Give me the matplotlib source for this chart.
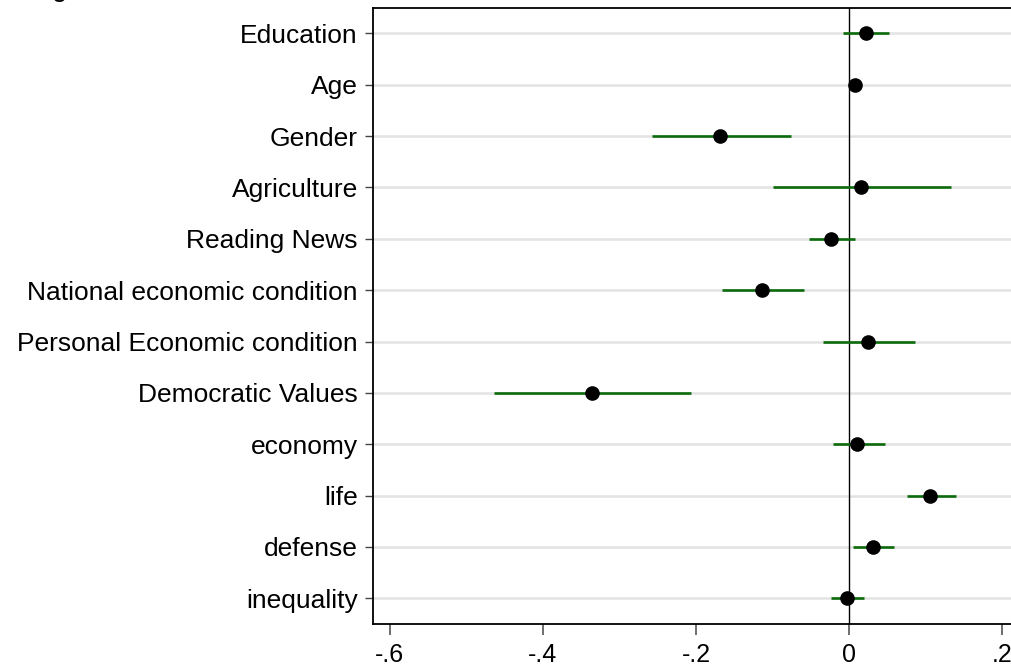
import matplotlib
matplotlib.use("Agg")
import matplotlib.pyplot as plt
import numpy as np

plt.rcParams["font.family"] = ["Liberation Sans", "DejaVu Sans"]

# ── Data (coefficients with confidence intervals) ──
labels = [
    "Education",
    "Age",
    "Gender",
    "Agriculture",
    "Reading News",
    "National economic condition",
    "Personal Economic condition",
    "Democratic Values",
    "economy",
    "life",
    "defense",
    "inequality",
]
coef = [0.022, 0.007, -0.169, 0.016, -0.024, -0.114, 0.025, -0.336, 0.010, 0.106, 0.031, -0.003]
ci_low = [-0.008, 0.003, -0.258, -0.099, -0.052, -0.166, -0.034, -0.464, -0.021, 0.075, 0.005, -0.024]
ci_high = [0.052, 0.011, -0.076, 0.133, 0.008, -0.059, 0.086, -0.207, 0.047, 0.139, 0.059, 0.020]
xticks = [-0.6, -0.4, -0.2, 0.0, 0.2]
xticklabels = ["-.6", "-.4", "-.2", "0", ".2"]

C_CI = "#0b6b0b"
C_GRID = "#e3e3e3"

fig = plt.figure(figsize=(10.11, 6.67), dpi=100)
fig.patch.set_facecolor("white")

# axes runs past the right edge, as in the cropped original
ax = fig.add_axes([0.369, 0.0645, 0.639, 0.924])

n = len(labels)
ypos = np.arange(n, 0, -1)

# ── Horizontal row guides ──
for y in ypos:
    ax.axhline(y, color=C_GRID, linewidth=1.8, zorder=1)

ax.axvline(0, color="black", linewidth=1.0, zorder=2)

# ── Confidence intervals and point estimates ──
ax.hlines(ypos, ci_low, ci_high, color=C_CI, linewidth=1.9, zorder=3)
ax.plot(coef, ypos, "o", color="black", markersize=9.5, zorder=4)

ax.set_xlim(-0.622, 0.222)
ax.set_ylim(0.5, n + 0.5)
ax.set_yticks(ypos)
ax.set_yticklabels(labels, fontsize=19)
ax.set_xticks(xticks)
ax.set_xticklabels(xticklabels, fontsize=18)

ax.tick_params(axis="y", length=6, width=1.0, color="#444444", pad=5)
ax.tick_params(axis="x", length=8, width=1.2, color="#555555", pad=6)

for side in ["left", "bottom", "top", "right"]:
    ax.spines[side].set_linewidth(1.3)
    ax.spines[side].set_color("black")

# cropped title descender in top-left corner
fig.text(52 / 1011, 1.0 + 4 / 667, "g", fontsize=20, color="black",
         ha="left", va="baseline")

fig.savefig("out.png", dpi=100, facecolor="white")
